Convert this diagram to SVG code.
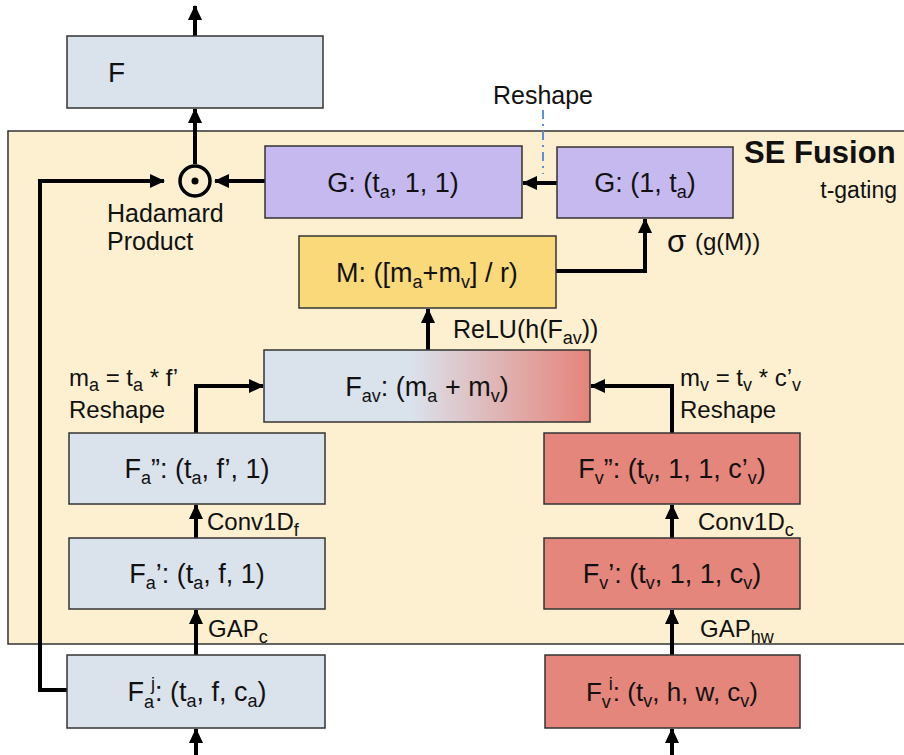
<svg xmlns="http://www.w3.org/2000/svg" width="904" height="755" viewBox="0 0 904 755">
<style>
text{font-family:"Liberation Sans",Arial,sans-serif;fill:#111}
.bt{font-size:27px;text-anchor:middle}
.lb{font-size:24px}
.tg{font-size:23px}
.s{font-size:18px}
.box{stroke:#333;stroke-width:1.5}
.blue{fill:#dae2ec}
.red{fill:#e5867c}
.pur{fill:#c6b9ef}
.gold{fill:#f9d97a}
.ln{fill:none;stroke:#000;stroke-width:4;marker-end:url(#ah)}
</style>
<defs>
<marker id="ah" markerUnits="userSpaceOnUse" markerWidth="16" markerHeight="16" viewBox="0 0 16 16" refX="14" refY="8" orient="auto">
<path d="M0,1 L15,8 L0,15 Z" fill="#000"/>
</marker>
<linearGradient id="gav" x1="0" y1="0" x2="1" y2="0">
<stop offset="0" stop-color="#dae2ec"/>
<stop offset="0.45" stop-color="#dae2ec"/>
<stop offset="1" stop-color="#e5847a"/>
</linearGradient>
</defs>
<rect width="904" height="755" fill="#fff"/>
<g id="se-fusion">
<rect x="8" y="131" width="910" height="513" fill="#fcf0d0" stroke="#333" stroke-width="1.5"/>
<text x="744" y="163" style="font-size:31px;font-weight:bold">SE Fusion</text>
<text x="897" y="198" text-anchor="end" class="tg">t-gating</text>
</g>
<g id="connectors">
<path class="ln" d="M195,36 V6"/>
<path class="ln" d="M195,164 V109"/>
<path class="ln" d="M265,181 H215"/>
<path class="ln" d="M67,690 H40 V181 H164"/>
<path class="ln" d="M557,183 H523"/>
<path class="ln" d="M556,271 H645 V219"/>
<path class="ln" d="M428,350 V309"/>
<path class="ln" d="M196,433 V386 H263"/>
<path class="ln" d="M672,433 V386 H591"/>
<path class="ln" d="M196,538 V505"/>
<path class="ln" d="M672,538 V505"/>
<path class="ln" d="M196,655 V610"/>
<path class="ln" d="M672,655 V610"/>
<path class="ln" d="M196,755 V729"/>
<path class="ln" d="M672,755 V729"/>
<path d="M543,110 V174" fill="none" stroke="#5b8fd6" stroke-width="2" stroke-dasharray="9,5,2,5"/>
</g>
<g id="labels">
<text x="543" y="104" class="lb" text-anchor="middle" style="font-size:25px">Reshape</text>
<text x="107" y="222" class="lb" style="font-size:25px">Hadamard</text>
<text x="107" y="250" class="lb" style="font-size:25px">Product</text>
<text x="667" y="252" style="font-size:31px">σ</text>
<text x="695" y="250" style="font-size:24px">(g(M))</text>
<text x="453" y="338" class="lb" style="font-size:25px">ReLU(h(F<tspan class="s" dy="6">av</tspan><tspan dy="-6">))</tspan></text>
<text x="69" y="386" class="lb">m<tspan class="s" dy="5">a</tspan><tspan dy="-5"> = t</tspan><tspan class="s" dy="5">a</tspan><tspan dy="-5"> * f’</tspan></text>
<text x="69" y="418" class="lb">Reshape</text>
<text x="680" y="386" class="lb">m<tspan class="s" dy="5">v</tspan><tspan dy="-5"> = t</tspan><tspan class="s" dy="5">v</tspan><tspan dy="-5"> * c’</tspan><tspan class="s" dy="5">v</tspan></text>
<text x="680" y="418" class="lb">Reshape</text>
<text x="207" y="530" class="lb">Conv1D<tspan class="s" dy="6">f</tspan></text>
<text x="698" y="530" class="lb">Conv1D<tspan class="s" dy="6">c</tspan></text>
<text x="208" y="637" class="lb">GAP<tspan class="s" dy="6">c</tspan></text>
<text x="700" y="637" class="lb">GAP<tspan class="s" dy="6">hw</tspan></text>
</g>
<g id="hadamard">
<circle cx="195" cy="181" r="15" fill="none" stroke="#000" stroke-width="3.5"/>
<circle cx="195" cy="181" r="3.5" fill="#000"/>
</g>
<g id="F">
<rect class="box blue" x="67" y="36" width="256" height="72"/>
<text x="108" y="82" style="font-size:28px">F</text>
</g>
<g id="G-ta-1-1">
<rect class="box pur" x="265" y="146" width="257" height="72"/>
<text x="393" y="192" class="bt">G: (t<tspan class="s" dy="6">a</tspan><tspan dy="-6">, 1, 1)</tspan></text>
</g>
<g id="G-1-ta">
<rect class="box pur" x="557" y="147" width="176" height="71"/>
<text x="645" y="192" class="bt">G: (1, t<tspan class="s" dy="6">a</tspan><tspan dy="-6">)</tspan></text>
</g>
<g id="M">
<rect class="box gold" x="299" y="236" width="257" height="72"/>
<text x="427" y="282" class="bt">M: ([m<tspan class="s" dy="6">a</tspan><tspan dy="-6">+m</tspan><tspan class="s" dy="6">v</tspan><tspan dy="-6">] / r)</tspan></text>
</g>
<g id="Fav">
<rect class="box" fill="url(#gav)" x="264" y="350" width="326" height="72"/>
<text x="427" y="396" class="bt">F<tspan class="s" dy="6">av</tspan><tspan dy="-6">: (m</tspan><tspan class="s" dy="6">a</tspan><tspan dy="-6"> + m</tspan><tspan class="s" dy="6">v</tspan><tspan dy="-6">)</tspan></text>
</g>
<g id="Fa2">
<rect class="box blue" x="69" y="433" width="256" height="71"/>
<text x="197" y="478" class="bt">F<tspan class="s" dy="6">a</tspan><tspan dy="-6">”: (t</tspan><tspan class="s" dy="6">a</tspan><tspan dy="-6">, f’, 1)</tspan></text>
</g>
<g id="Fa1">
<rect class="box blue" x="69" y="538" width="256" height="71"/>
<text x="197" y="583" class="bt">F<tspan class="s" dy="6">a</tspan><tspan dy="-6">’: (t</tspan><tspan class="s" dy="6">a</tspan><tspan dy="-6">, f, 1)</tspan></text>
</g>
<g id="Faj">
<rect class="box blue" x="67" y="655" width="258" height="73"/>
<text x="197" y="701" class="bt">F<tspan class="s" dy="7">a</tspan><tspan class="s" dy="-18" dx="-3">j</tspan><tspan dy="11">: (t</tspan><tspan class="s" dy="6">a</tspan><tspan dy="-6">, f, c</tspan><tspan class="s" dy="6">a</tspan><tspan dy="-6">)</tspan></text>
</g>
<g id="Fv2">
<rect class="box red" x="544" y="433" width="256" height="71"/>
<text x="672" y="478" class="bt">F<tspan class="s" dy="6">v</tspan><tspan dy="-6">”: (t</tspan><tspan class="s" dy="6">v</tspan><tspan dy="-6">, 1, 1, c’</tspan><tspan class="s" dy="6">v</tspan><tspan dy="-6">)</tspan></text>
</g>
<g id="Fv1">
<rect class="box red" x="544" y="538" width="256" height="71"/>
<text x="672" y="583" class="bt">F<tspan class="s" dy="6">v</tspan><tspan dy="-6">’: (t</tspan><tspan class="s" dy="6">v</tspan><tspan dy="-6">, 1, 1, c</tspan><tspan class="s" dy="6">v</tspan><tspan dy="-6">)</tspan></text>
</g>
<g id="Fvi">
<rect class="box red" x="545" y="655" width="255" height="73"/>
<text x="672" y="701" class="bt" style="font-size:26px">F<tspan class="s" dy="7">v</tspan><tspan class="s" dy="-18" dx="-2">i</tspan><tspan dy="11">: (t</tspan><tspan class="s" dy="6">v</tspan><tspan dy="-6">, h, w, c</tspan><tspan class="s" dy="6">v</tspan><tspan dy="-6">)</tspan></text>
</g>
</svg>
